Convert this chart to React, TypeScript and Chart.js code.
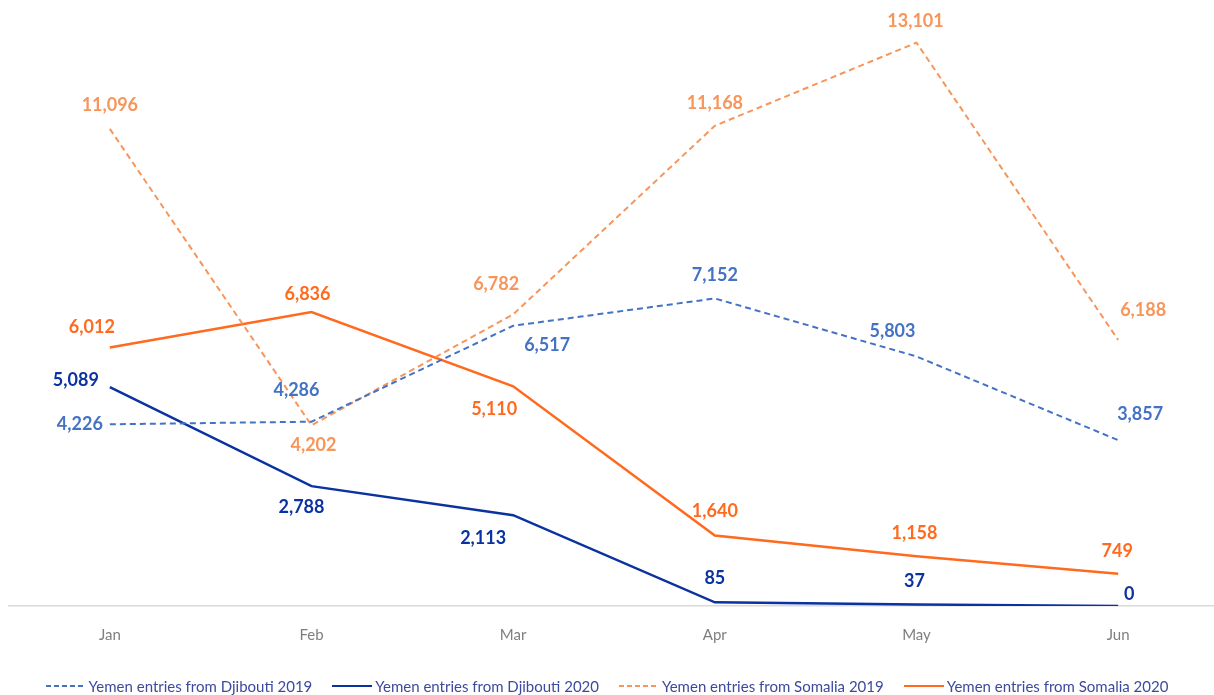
import React, { useEffect, useRef } from "react";
import { Chart, registerables } from "chart.js";

Chart.register(...registerables);

const months = ["Jan", "Feb", "Mar", "Apr", "May", "Jun"];
const djibouti2019 = [4226, 4286, 6517, 7152, 5803, 3857];
const djibouti2020 = [5089, 2788, 2113, 85, 37, 0];
const somalia2019 = [11096, 4202, 6782, 11168, 13101, 6188];
const somalia2020 = [6012, 6836, 5110, 1640, 1158, 749];

const seriesNames = [
  "Yemen entries from Djibouti 2019",
  "Yemen entries from Djibouti 2020",
  "Yemen entries from Somalia 2019",
  "Yemen entries from Somalia 2020",
];
const seriesColors = ["#4472C4", "#0A32A0", "#F7955A", "#FF6A1E"];
const seriesDashed = [true, false, true, false];

// label placement (dx, dy from point) – kept apart from the data
const labelOffsets: number[][][] = [
  [[-30, 0], [-15, -32], [34, 19], [0, -23], [-24, -25], [22, -26]],
  [[-34, -7], [-10, 21], [-30, 23], [0, -24], [-2, -23], [11, -12]],
  [[0, -24], [2, 20], [-17, -30], [0, -23], [-1, -21], [25, -30]],
  [[-18, -20], [-4, -18], [-19, 23], [0, -24], [-2, -23], [-1, -23]],
];

const FONT = "Lato, 'Open Sans', sans-serif";

const labelPlugin = {
  id: "pointLabels",
  afterDatasetsDraw(chart: any) {
    const ctx = chart.ctx;
    ctx.save();
    ctx.font = `bold 18px ${FONT}`;
    ctx.textAlign = "center";
    ctx.textBaseline = "middle";
    chart.data.datasets.forEach((ds: any, di: number) => {
      const meta = chart.getDatasetMeta(di);
      meta.data.forEach((pt: any, i: number) => {
        const v = ds.data[i];
        const off = labelOffsets[di][i];
        ctx.fillStyle = seriesColors[di];
        ctx.fillText(v.toLocaleString("en-US"), pt.x + off[0], pt.y + off[1]);
      });
    });
    ctx.restore();
  },
};

export default function App() {
  const canvasRef = useRef<HTMLCanvasElement | null>(null);

  useEffect(() => {
    if (!canvasRef.current) return;
    const allData = [djibouti2019, djibouti2020, somalia2019, somalia2020];
    const chart = new Chart(canvasRef.current, {
      type: "line",
      data: {
        labels: months,
        datasets: allData.map((d, i) => ({
          label: seriesNames[i],
          data: d,
          borderColor: seriesColors[i],
          backgroundColor: seriesColors[i],
          borderWidth: seriesDashed[i] ? 2 : 2.5,
          borderDash: seriesDashed[i] ? [6, 4] : [],
          pointRadius: 0,
          tension: 0,
          fill: false,
        })),
      },
      options: {
        animation: false,
        responsive: true,
        maintainAspectRatio: false,
        layout: { padding: { left: 9, right: 1, top: 4, bottom: 17 } },
        plugins: {
          legend: { display: false },
          tooltip: { enabled: false },
        },
        scales: {
          x: {
            offset: true,
            grid: { display: false, drawTicks: false },
            border: { display: true, color: "#D9D9D9", width: 1.5 },
            ticks: {
              padding: 20,
              color: "#7F7F7F",
              font: { family: FONT, size: 15 },
            },
          },
          y: {
            display: false,
            min: 0,
            max: 14000,
          },
        },
      },
      plugins: [labelPlugin],
    });
    return () => chart.destroy();
  }, []);

  return (
    <div
      style={{
        position: "absolute",
        left: 0,
        top: 0,
        width: 1214,
        height: 695,
        overflow: "hidden",
        background: "#fff",
      }}
    >
      <div style={{ position: "absolute", left: 0, top: 0, width: 1220, height: 681 }}>
        <canvas ref={canvasRef} />
      </div>
      <div
        style={{
          position: "absolute",
          left: 0,
          top: 676,
          width: 1214,
          height: 20,
          display: "flex",
          justifyContent: "center",
          alignItems: "center",
          gap: 20,
          fontFamily: FONT,
          fontSize: 15,
          color: "#3C4A9E",
          lineHeight: "20px",
          whiteSpace: "nowrap",
        }}
      >
        {seriesNames.map((name, i) => (
          <div key={name} style={{ display: "flex", alignItems: "center" }}>
            <svg width={40} height={4} style={{ marginRight: 3 }}>
              <line
                x1={0}
                y1={2}
                x2={40}
                y2={2}
                stroke={seriesColors[i]}
                strokeWidth={2}
                strokeDasharray={seriesDashed[i] ? "5 3" : undefined}
              />
            </svg>
            <span>{name}</span>
          </div>
        ))}
      </div>
    </div>
  );
}
